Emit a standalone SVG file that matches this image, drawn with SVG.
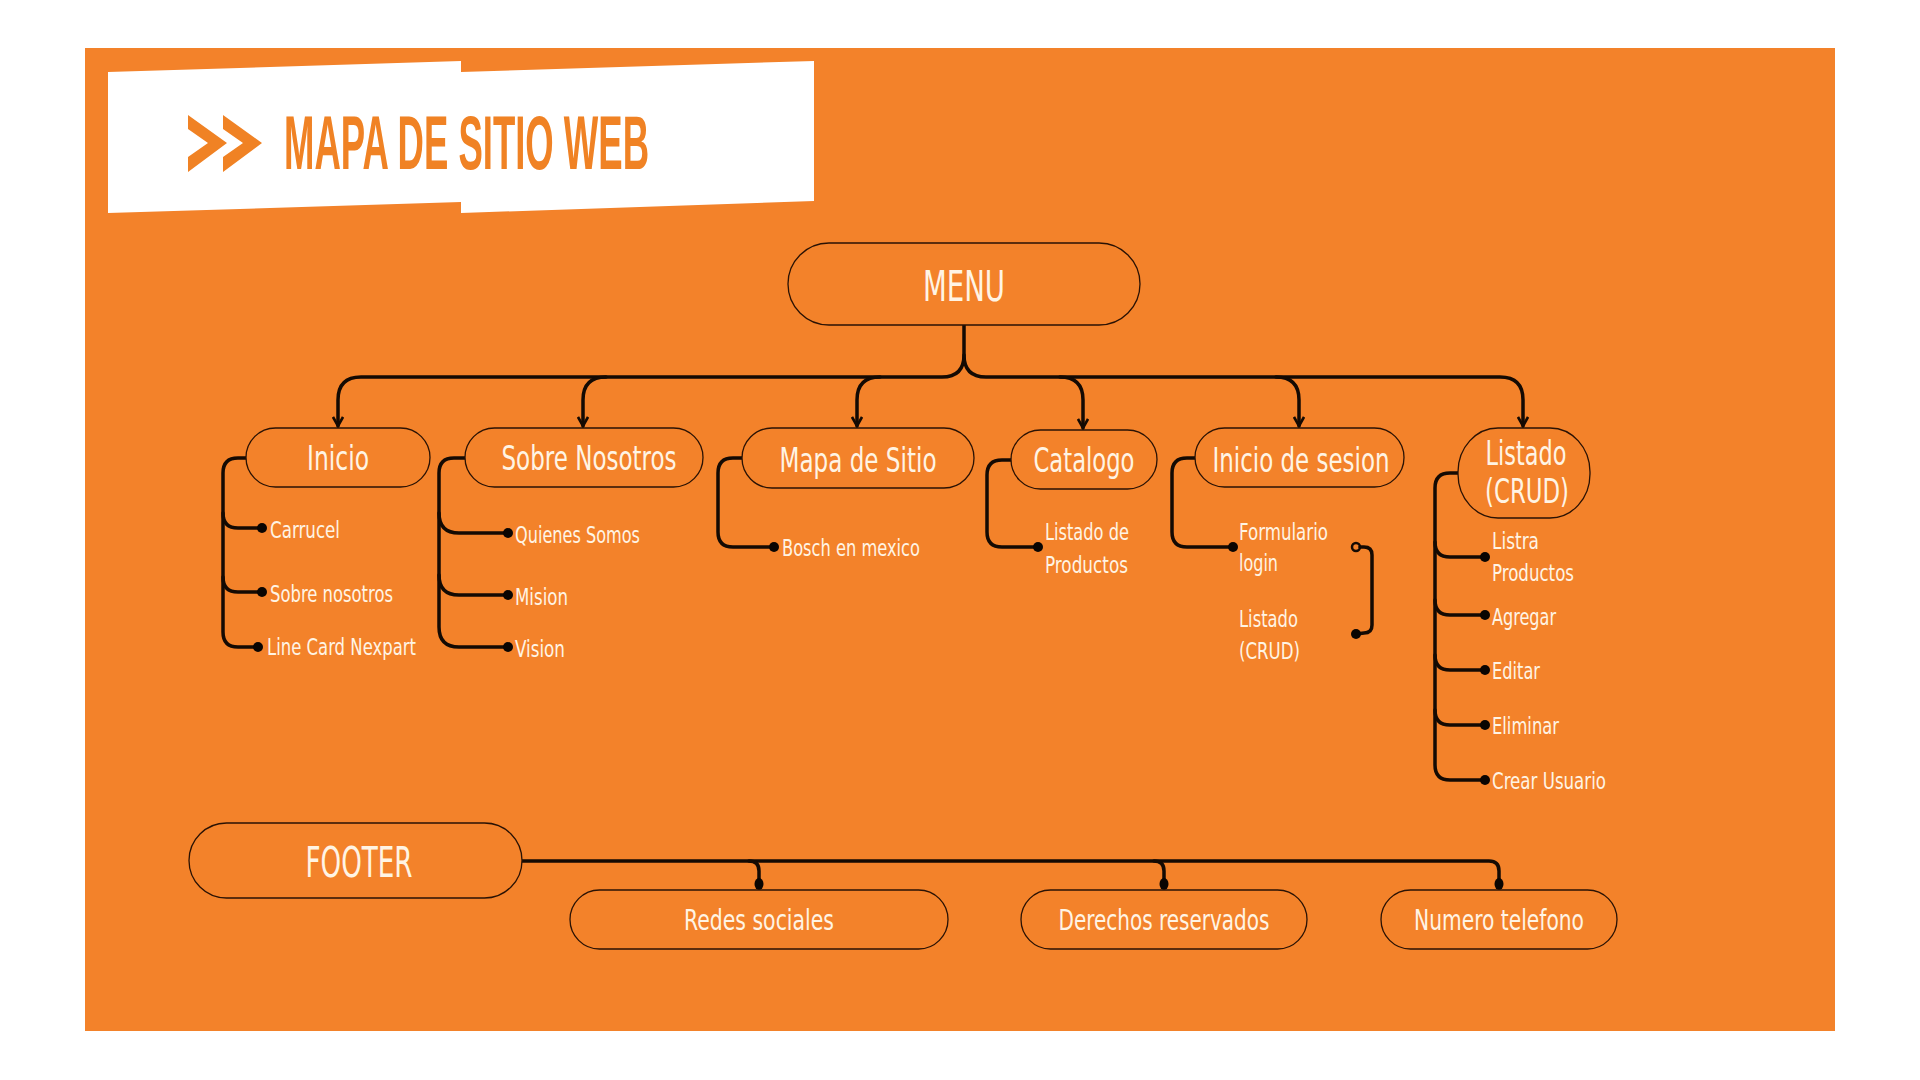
<svg xmlns="http://www.w3.org/2000/svg" width="1920" height="1080" viewBox="0 0 1920 1080">
<defs>
<marker id="arr" viewBox="0 0 12 12" refX="10" refY="6" markerWidth="12" markerHeight="12" markerUnits="userSpaceOnUse" orient="auto">
<path d="M1,1 L10,6 L1,11" fill="none" stroke="#140a03" stroke-width="2.6" stroke-linejoin="miter"/>
</marker>
<style>
.bg{fill:#F3822A}
.box{fill:#F3822A;stroke:#2a1204;stroke-width:1.3}
.lbl{font-family:'Liberation Sans Narrow','DejaVu Sans Condensed','Liberation Sans',sans-serif;fill:#FFF4E4;text-anchor:middle}
.big{font-size:42px}
.node{font-size:33px}
.sub{font-size:23px;text-anchor:start}
.foot{font-size:28px}
.ln{fill:none;stroke:#140a03;stroke-width:3.5;stroke-linecap:round}
.dot{fill:#0a0502}
</style>
</defs>
<rect width="1920" height="1080" fill="#ffffff"/>
<rect class="bg" x="85" y="48" width="1750" height="983"/>
<g id="title">
<polygon points="108,72 461,61 461,202 108,213" fill="#ffffff"/>
<polygon points="461,72 814,61 814,201 461,213" fill="#ffffff"/>
<polygon points="188,115 227,143 188,172 188,157 208,143 188,129" fill="#F08224"/>
<polygon points="223,115 262,143 223,172 223,157 243,143 223,129" fill="#F08224"/>
<text x="284" y="169" font-family="'Liberation Sans Narrow','Liberation Sans',sans-serif" font-weight="bold" font-size="76" fill="#F08224" textLength="365" lengthAdjust="spacingAndGlyphs">MAPA DE SITIO WEB</text>
</g>
<g id="connectors">
<path class="ln" d="M964,325 L964,355 Q964,377 942,377 L361,377 Q338,377 338,400 L338,426" marker-end="url(#arr)"/>
<path class="ln" d="M964,355 Q964,377 986,377 L1500,377 Q1523,377 1523,400 L1523,426" marker-end="url(#arr)"/>
<path class="ln" d="M606,377 Q583,377 583,400 L583,426" marker-end="url(#arr)"/>
<path class="ln" d="M880,377 Q857,377 857,400 L857,426" marker-end="url(#arr)"/>
<path class="ln" d="M1060,377 Q1083,377 1083,400 L1083,428" marker-end="url(#arr)"/>
<path class="ln" d="M1276,377 Q1299,377 1299,400 L1299,426" marker-end="url(#arr)"/>
<path class="ln" d="M246,458 L238,458 Q223,458 223,473 L223,632 Q223,647 238,647 L258,647"/>
<path class="ln" d="M223,513 Q223,528 238,528 L262,528"/>
<path class="ln" d="M223,577 Q223,592 238,592 L262,592"/>
<path class="ln" d="M465,458 L454,458 Q439,458 439,473 L439,627 Q439,647 459,647 L508,647"/>
<path class="ln" d="M439,513 Q439,533 459,533 L508,533"/>
<path class="ln" d="M439,575 Q439,595 459,595 L508,595"/>
<path class="ln" d="M742,458 L733,458 Q718,458 718,473 L718,532 Q718,547 733,547 L774,547"/>
<path class="ln" d="M1011,460 L1002,460 Q987,460 987,475 L987,532 Q987,547 1002,547 L1038,547"/>
<path class="ln" d="M1195,458 L1187,458 Q1172,458 1172,473 L1172,532 Q1172,547 1187,547 L1233,547"/>
<circle cx="1356" cy="547" r="4" fill="none" stroke="#140a03" stroke-width="2.5"/>
<path class="ln" d="M1360,547 L1364,547 Q1372,547 1372,555 L1372,625 Q1372,633 1364,633 L1356,634"/>
<path class="ln" d="M1458,473 L1450,473 Q1435,473 1435,488 L1435,765 Q1435,780 1450,780 L1485,780"/>
<path class="ln" d="M1435,542 Q1435,557 1450,557 L1485,557"/>
<path class="ln" d="M1435,600 Q1435,615 1450,615 L1485,615"/>
<path class="ln" d="M1435,655 Q1435,670 1450,670 L1485,670"/>
<path class="ln" d="M1435,710 Q1435,725 1450,725 L1485,725"/>
<path class="ln" d="M522,861 L1489,861 Q1499,861 1499,871 L1499,884"/>
<path class="ln" d="M749,861 Q759,861 759,871 L759,884"/>
<path class="ln" d="M1154,861 Q1164,861 1164,871 L1164,884"/>
<circle class="dot" cx="262" cy="528" r="5"/>
<circle class="dot" cx="262" cy="592" r="5"/>
<circle class="dot" cx="258" cy="647" r="5"/>
<circle class="dot" cx="508" cy="533" r="5"/>
<circle class="dot" cx="508" cy="595" r="5"/>
<circle class="dot" cx="508" cy="647" r="5"/>
<circle class="dot" cx="774" cy="547" r="5"/>
<circle class="dot" cx="1038" cy="547" r="5"/>
<circle class="dot" cx="1233" cy="547" r="5"/>
<circle class="dot" cx="1356" cy="634" r="5"/>
<circle class="dot" cx="1485" cy="557" r="5"/>
<circle class="dot" cx="1485" cy="615" r="5"/>
<circle class="dot" cx="1485" cy="670" r="5"/>
<circle class="dot" cx="1485" cy="725" r="5"/>
<circle class="dot" cx="1485" cy="780" r="5"/>
<ellipse class="dot" cx="759" cy="884" rx="4.5" ry="6"/>
<ellipse class="dot" cx="1164" cy="884" rx="4.5" ry="6"/>
<ellipse class="dot" cx="1499" cy="884" rx="4.5" ry="6"/>
</g>
<g id="menu">
<rect class="box" x="788" y="243" width="352" height="82" rx="41"/>
<text class="lbl big" x="964" y="301" textLength="82" lengthAdjust="spacingAndGlyphs">MENU</text>
</g>
<g id="inicio">
<rect class="box" x="246" y="428" width="184" height="59" rx="29.5"/>
<text class="lbl node" x="338" y="470" textLength="62" lengthAdjust="spacingAndGlyphs">Inicio</text>
<text class="lbl sub" x="270" y="538" textLength="70" lengthAdjust="spacingAndGlyphs">Carrucel</text>
<text class="lbl sub" x="270" y="602" textLength="123" lengthAdjust="spacingAndGlyphs">Sobre nosotros</text>
<text class="lbl sub" x="267" y="655" textLength="149" lengthAdjust="spacingAndGlyphs">Line Card Nexpart</text>
</g>
<g id="sobre-nosotros">
<rect class="box" x="465" y="428" width="238" height="59" rx="29.5"/>
<text class="lbl node" x="589" y="470" textLength="175" lengthAdjust="spacingAndGlyphs">Sobre Nosotros</text>
<text class="lbl sub" x="515" y="543" textLength="125" lengthAdjust="spacingAndGlyphs">Quienes Somos</text>
<text class="lbl sub" x="515" y="605" textLength="53" lengthAdjust="spacingAndGlyphs">Mision</text>
<text class="lbl sub" x="515" y="657" textLength="50" lengthAdjust="spacingAndGlyphs">Vision</text>
</g>
<g id="mapa-de-sitio">
<rect class="box" x="742" y="428" width="232" height="60" rx="30"/>
<text class="lbl node" x="858" y="472" textLength="157" lengthAdjust="spacingAndGlyphs">Mapa de Sitio</text>
<text class="lbl sub" x="782" y="556" textLength="138" lengthAdjust="spacingAndGlyphs">Bosch en mexico</text>
</g>
<g id="catalogo">
<rect class="box" x="1011" y="430" width="146" height="59" rx="29.5"/>
<text class="lbl node" x="1084" y="472" textLength="101" lengthAdjust="spacingAndGlyphs">Catalogo</text>
<text class="lbl sub" x="1045" y="540" textLength="84" lengthAdjust="spacingAndGlyphs">Listado de</text>
<text class="lbl sub" x="1045" y="573" textLength="83" lengthAdjust="spacingAndGlyphs">Productos</text>
</g>
<g id="inicio-de-sesion">
<rect class="box" x="1195" y="428" width="209" height="59" rx="29.5"/>
<text class="lbl node" x="1301" y="472" textLength="177" lengthAdjust="spacingAndGlyphs">Inicio de sesion</text>
<text class="lbl sub" x="1239" y="540" textLength="89" lengthAdjust="spacingAndGlyphs">Formulario</text>
<text class="lbl sub" x="1239" y="571" textLength="39" lengthAdjust="spacingAndGlyphs">login</text>
<text class="lbl sub" x="1239" y="627" textLength="59" lengthAdjust="spacingAndGlyphs">Listado</text>
<text class="lbl sub" x="1239" y="659" textLength="61" lengthAdjust="spacingAndGlyphs">(CRUD)</text>
</g>
<g id="listado-crud">
<rect class="box" x="1458" y="428" width="132" height="90" rx="40" ry="44"/>
<text class="lbl node" x="1526" y="465" textLength="81" lengthAdjust="spacingAndGlyphs">Listado</text>
<text class="lbl node" x="1527" y="503" textLength="84" lengthAdjust="spacingAndGlyphs">(CRUD)</text>
<text class="lbl sub" x="1492" y="549" textLength="47" lengthAdjust="spacingAndGlyphs">Listra</text>
<text class="lbl sub" x="1492" y="581" textLength="82" lengthAdjust="spacingAndGlyphs">Productos</text>
<text class="lbl sub" x="1492" y="625" textLength="64" lengthAdjust="spacingAndGlyphs">Agregar</text>
<text class="lbl sub" x="1492" y="679" textLength="48" lengthAdjust="spacingAndGlyphs">Editar</text>
<text class="lbl sub" x="1492" y="734" textLength="67" lengthAdjust="spacingAndGlyphs">Eliminar</text>
<text class="lbl sub" x="1492" y="789" textLength="114" lengthAdjust="spacingAndGlyphs">Crear Usuario</text>
</g>
<g id="footer">
<rect class="box" x="189" y="823" width="333" height="75" rx="37.5"/>
<text class="lbl big" x="359" y="877" textLength="107" lengthAdjust="spacingAndGlyphs">FOOTER</text>
</g>
<g id="redes-sociales">
<rect class="box" x="570" y="890" width="378" height="59" rx="29.5"/>
<text class="lbl foot" x="759" y="930" textLength="150" lengthAdjust="spacingAndGlyphs">Redes sociales</text>
</g>
<g id="derechos-reservados">
<rect class="box" x="1021" y="890" width="286" height="59" rx="29.5"/>
<text class="lbl foot" x="1164" y="930" textLength="211" lengthAdjust="spacingAndGlyphs">Derechos reservados</text>
</g>
<g id="numero-telefono">
<rect class="box" x="1381" y="890" width="236" height="59" rx="29.5"/>
<text class="lbl foot" x="1499" y="930" textLength="170" lengthAdjust="spacingAndGlyphs">Numero telefono</text>
</g>
</svg>
